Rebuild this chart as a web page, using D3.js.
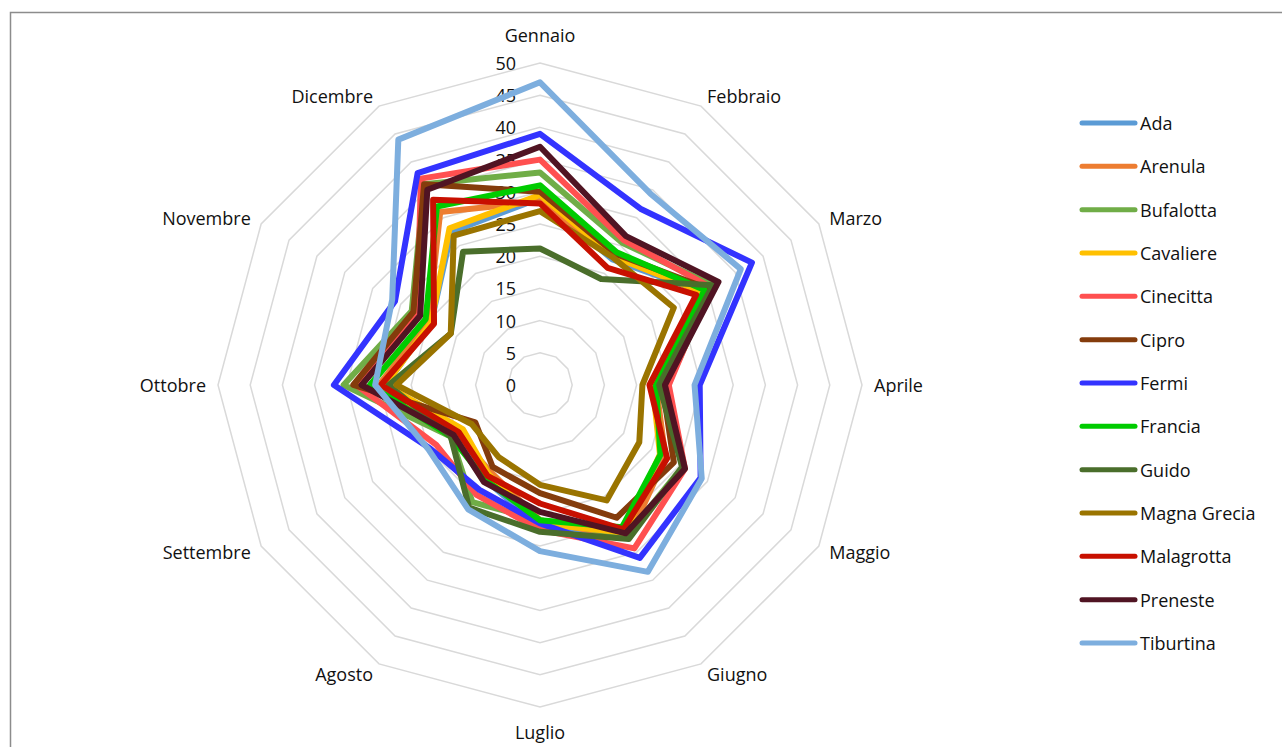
<!DOCTYPE html>
<html>
<head>
<meta charset="utf-8">
<script src="https://d3js.org/d3.v7.min.js"></script>
<style>
  body { margin: 0; background: white; }
  text { font-family: "Open Sans", sans-serif; fill: #111; }
</style>
</head>
<body>
<div id="my_dataviz"></div>
<script>
// months on the axes, clockwise from the top
var months = ["Gennaio", "Febbraio", "Marzo", "Aprile", "Maggio", "Giugno",
              "Luglio", "Agosto", "Settembre", "Ottobre", "Novembre", "Dicembre"];
var ticks = [0, 5, 10, 15, 20, 25, 30, 35, 40, 45, 50];

// one array per series (Gen..Dic)
var ada         = [29, 22.5, 29, 18, 22, 27, 22, 17, 15, 24, 19.5, 27.5];
var arenula     = [28.5, 23, 29, 18, 22.5, 27.5, 21, 15.5, 15, 25, 20, 31];
var bufalotta   = [33, 25.5, 31, 19.8, 25.5, 27, 21, 21, 16, 30.5, 23, 36];
var cavaliere   = [29.5, 23, 29, 17.5, 21.5, 26.5, 21.5, 16, 13.8, 24, 19.5, 28.1];
var cinecitta   = [35, 26, 30.5, 20, 26, 29.3, 22.5, 19.7, 18.6, 28.5, 22, 37];
var cipro       = [30, 23.5, 30, 19, 24, 23.8, 16.8, 14.7, 11.6, 29, 22.7, 36];
var fermi       = [39, 31.5, 38, 24.8, 28.8, 31, 21.5, 18.8, 19.7, 32, 26, 38];
var francia     = [31, 23.8, 29.5, 18, 21.6, 25.5, 21, 17, 16, 26.4, 20.5, 32];
var guido       = [21.2, 19, 31, 18.5, 25.5, 27.6, 22.8, 22, 16, 23.5, 16, 23.9];
var magnaGrecia = [27, 22.8, 24, 15.9, 17.8, 20.7, 15.5, 12.9, 12.2, 22.3, 16, 26.8];
var malagrotta  = [28.2, 21, 28, 17, 22.8, 25.9, 18.4, 16.3, 14.6, 24.7, 19, 33.2];
var preneste    = [37, 26.7, 32, 19.4, 26, 26.6, 19.7, 17.4, 15.5, 27.7, 21.5, 35];
var tiburtina   = [47, 34.3, 36, 24, 29, 33.5, 25.8, 22.3, 20, 25.6, 26.5, 44];

var seriesNames = ["Ada", "Arenula", "Bufalotta", "Cavaliere", "Cinecitta", "Cipro", "Fermi",
                   "Francia", "Guido", "Magna Grecia", "Malagrotta", "Preneste", "Tiburtina"];
var seriesValues = [ada, arenula, bufalotta, cavaliere, cinecitta, cipro, fermi,
                    francia, guido, magnaGrecia, malagrotta, preneste, tiburtina];
var colors = ["#5B9BD5", "#ED7D31", "#70AD47", "#FFC000", "#FF5050", "#843C0C", "#3333FF",
              "#00CC00", "#4A6E2B", "#9A7400", "#C81000", "#501423", "#7DAEDE"];

var width = 1282, height = 747;
var cx = 540, cy = 385, radius = 322;

var svg = d3.select("#my_dataviz")
    .append("svg")
    .attr("width", width)
    .attr("height", height);

// outer frame
svg.append("rect")
    .attr("x", 10.5).attr("y", 12.5)
    .attr("width", 1300).attr("height", 800)
    .attr("fill", "none")
    .attr("stroke", "#8c8c8c")
    .attr("stroke-width", 1.5);

var g = svg.append("g").attr("transform", "translate(" + cx + "," + cy + ")");

var r = d3.scaleLinear().domain([0, 50]).range([0, radius]);
var angle = d3.scalePoint().domain(months.concat(["_end"])).range([0, 2 * Math.PI]);

// grid rings
var ring = d3.lineRadial()
    .angle(function (d) { return angle(d); })
    .curve(d3.curveLinearClosed);

g.selectAll(".ring")
    .data(ticks.slice(1))
    .enter()
    .append("path")
    .attr("class", "ring")
    .attr("d", function (t) { return ring.radius(r(t))(months); })
    .attr("fill", "none")
    .attr("stroke", "#d9d9d9")
    .attr("stroke-width", 1.5);

// tick labels
g.selectAll(".tick")
    .data(ticks)
    .enter()
    .append("text")
    .attr("x", -24)
    .attr("y", function (t) { return -r(t); })
    .attr("text-anchor", "end")
    .attr("dominant-baseline", "central")
    .style("font-size", "18px")
    .text(function (t) { return t; });

// month labels
g.selectAll(".month")
    .data(months)
    .enter()
    .append("text")
    .each(function (m) {
        var a = angle(m), s = Math.sin(a), c = Math.cos(a);
        var vx = r(50) * s, vy = -r(50) * c;
        var el = d3.select(this);
        if (Math.abs(s) < 0.01) {
            el.attr("x", vx).attr("y", vy + (c > 0 ? -28 : 25)).attr("text-anchor", "middle");
        } else {
            el.attr("x", vx + 12 * s).attr("y", vy - 12 * c)
              .attr("text-anchor", s > 0 ? "start" : "end");
        }
    })
    .attr("dominant-baseline", "central")
    .style("font-size", "18px")
    .text(function (m) { return m; });

// series
var line = d3.lineRadial()
    .angle(function (d, i) { return angle(months[i]); })
    .radius(function (d) { return r(d); })
    .curve(d3.curveLinearClosed);

g.selectAll(".series")
    .data(seriesValues)
    .enter()
    .append("path")
    .attr("class", "series")
    .attr("d", line)
    .attr("fill", "none")
    .attr("stroke", function (d, i) { return colors[i]; })
    .attr("stroke-width", 6)
    .attr("stroke-linejoin", "round");

// legend
var legend = svg.append("g").attr("transform", "translate(1082,123)");
var row = legend.selectAll(".row")
    .data(seriesNames)
    .enter()
    .append("g")
    .attr("transform", function (d, i) { return "translate(0," + (i * 43.33) + ")"; });

row.append("line")
    .attr("x1", 0).attr("x2", 53)
    .attr("stroke", function (d, i) { return colors[i]; })
    .attr("stroke-width", 5)
    .attr("stroke-linecap", "round");

row.append("text")
    .attr("x", 58)
    .attr("dominant-baseline", "central")
    .style("font-size", "18px")
    .text(function (d) { return d; });
</script>
</body>
</html>
